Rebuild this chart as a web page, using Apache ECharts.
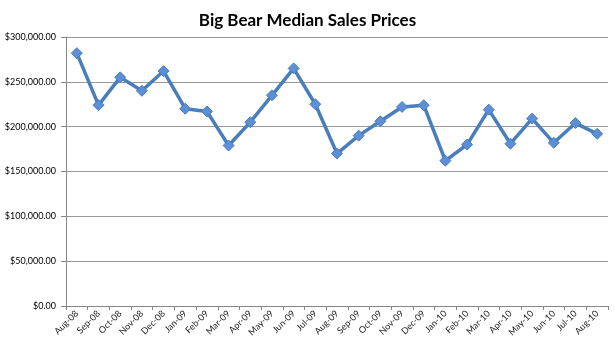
<!DOCTYPE html>
<html>
<head>
<meta charset="utf-8">
<script src="https://cdn.jsdelivr.net/npm/echarts@6/dist/echarts.min.js"></script>
<style>
  html, body { margin: 0; padding: 0; background: #fff; }
  #chart { width: 615px; height: 352px; }
</style>
</head>
<body>
<div id="chart"></div>
<script>
var months = ["Aug-08", "Sep-08", "Oct-08", "Nov-08", "Dec-08", "Jan-09", "Feb-09", "Mar-09", "Apr-09",
    "May-09", "Jun-09", "Jul-09", "Aug-09", "Sep-09", "Oct-09", "Nov-09", "Dec-09", "Jan-10",
    "Feb-10", "Mar-10", "Apr-10", "May-10", "Jun-10", "Jul-10", "Aug-10"];
var medianPrices = [282000, 224000, 255000, 240000, 262000, 220000, 217000, 179000, 205000,
    235000, 265000, 225000, 170000, 190000, 206000, 222000, 224000, 162000,
    180000, 219000, 181000, 209000, 182000, 204000, 192000];
var yMin = 0, yMax = 300000, yStep = 50000;

function money(v) {
    return "$" + v.toLocaleString("en-US", { minimumFractionDigits: 2, maximumFractionDigits: 2 });
}

var chart = echarts.init(document.getElementById("chart"));
var option = {
    animation: false,
    title: {
        text: "Big Bear Median Sales Prices",
        left: "center",
        top: 7,
        textStyle: { fontFamily: "Lato", fontWeight: "bold", fontSize: 17, color: "#000" }
    },
    grid: { left: 66, right: 7, top: 37, bottom: 46 },
    xAxis: {
        type: "category",
        data: months,
        boundaryGap: true,
        axisLine: { lineStyle: { color: "#868686" } },
        axisTick: { show: true, length: 4, interval: 0, lineStyle: { color: "#868686" } },
        axisLabel: {
            interval: 0,
            rotate: 45,
            margin: 6,
            fontFamily: "Lato",
            fontSize: 9,
            color: "#222"
        }
    },
    yAxis: {
        type: "value",
        min: yMin,
        max: yMax,
        interval: yStep,
        axisLine: { show: true, lineStyle: { color: "#868686" } },
        axisTick: { show: true, length: 5, lineStyle: { color: "#868686" } },
        splitLine: { lineStyle: { color: "#9a9a9a", width: 1 } },
        axisLabel: {
            formatter: money,
            margin: 10,
            fontFamily: "Lato",
            fontSize: 9,
            color: "#000"
        }
    },
    series: [{
        type: "line",
        data: medianPrices,
        symbol: "diamond",
        symbolSize: 11,
        lineStyle: { color: "#4A7EBB", width: 3.5 },
        itemStyle: { color: "#5D8FD6", borderColor: "#4A7EBB", borderWidth: 1 }
    }]
};
chart.setOption(option);
</script>
</body>
</html>
